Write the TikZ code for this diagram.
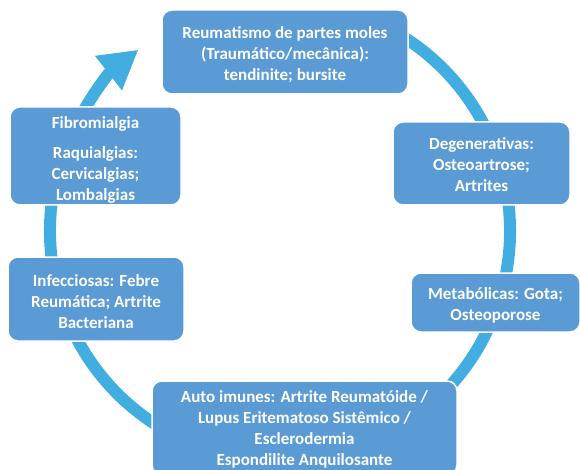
\documentclass[tikz,border=0pt]{standalone}
\usepackage{fontspec}
\setmainfont{Carlito}
\usetikzlibrary{arrows.meta}
\definecolor{boxblue}{HTML}{5B9BD5}
\definecolor{arcblue}{HTML}{41ADE1}
\tikzset{
  box/.style={draw=white, line width=1.5pt, fill=boxblue, rounded corners=10pt, inner sep=0pt},
  boxtext/.style={text=white, font=\bfseries\fontsize{17}{21}\selectfont, align=center, inner sep=0pt},
  cyclearc/.style={draw=arcblue, line width=12pt, -{Triangle[length=38pt,width=41pt]}}
}
\begin{document}
\begin{tikzpicture}[x=1pt,y=-1pt]
\useasboundingbox (0,0) rectangle (580,470);
\coordinate (c) at (280,231);
\draw[cyclearc] (c) ++(-66:230) arc[start angle=-66, end angle=232, radius=230];
\node[box, minimum width=246pt, minimum height=84pt] (top) at (285,52) {};
\node[boxtext] (toptext) at ([yshift=-3pt]top.center)
  {Reumatismo de partes moles\\(Traumático/mecânica):\\tendinite; bursite};
\node[box, minimum width=177pt, minimum height=83pt] (deg) at (481.5,163.5) {};
\node[boxtext] (degtext) at ([yshift=-1.5pt]deg.center)
  {Degenerativas:\\Osteoartrose;\\Artrites};
\node[box, minimum width=169pt, minimum height=59pt] (met) at (495.5,302.5) {};
\node[boxtext] (mettext) at ([yshift=-3pt]met.center)
  {Metabólicas: Gota;\\Osteoporose};
\node[box, minimum width=305pt, minimum height=94pt] (auto) at (304.5,428) {};
\node[boxtext] (autotext) at ([yshift=-1.5pt]auto.center)
  {Auto imunes: Artrite Reumatóide /\\Lupus Eritematoso Sistêmico /\\Esclerodermia\\Espondilite Anquilosante};
\node[box, minimum width=176pt, minimum height=84pt] (inf) at (96,299) {};
\node[boxtext] (inftext) at ([yshift=-3pt]inf.center)
  {Infecciosas: Febre\\Reumática; Artrite\\Bacteriana};
\node[box, minimum width=171pt, minimum height=98pt] (fib) at (95.5,156) {};
\node[boxtext] (fibtext) at ([yshift=-3.5pt]fib.center)
  {Fibromialgia\\[9pt]Raquialgias:\\Cervicalgias;\\Lombalgias};
\end{tikzpicture}
\end{document}
